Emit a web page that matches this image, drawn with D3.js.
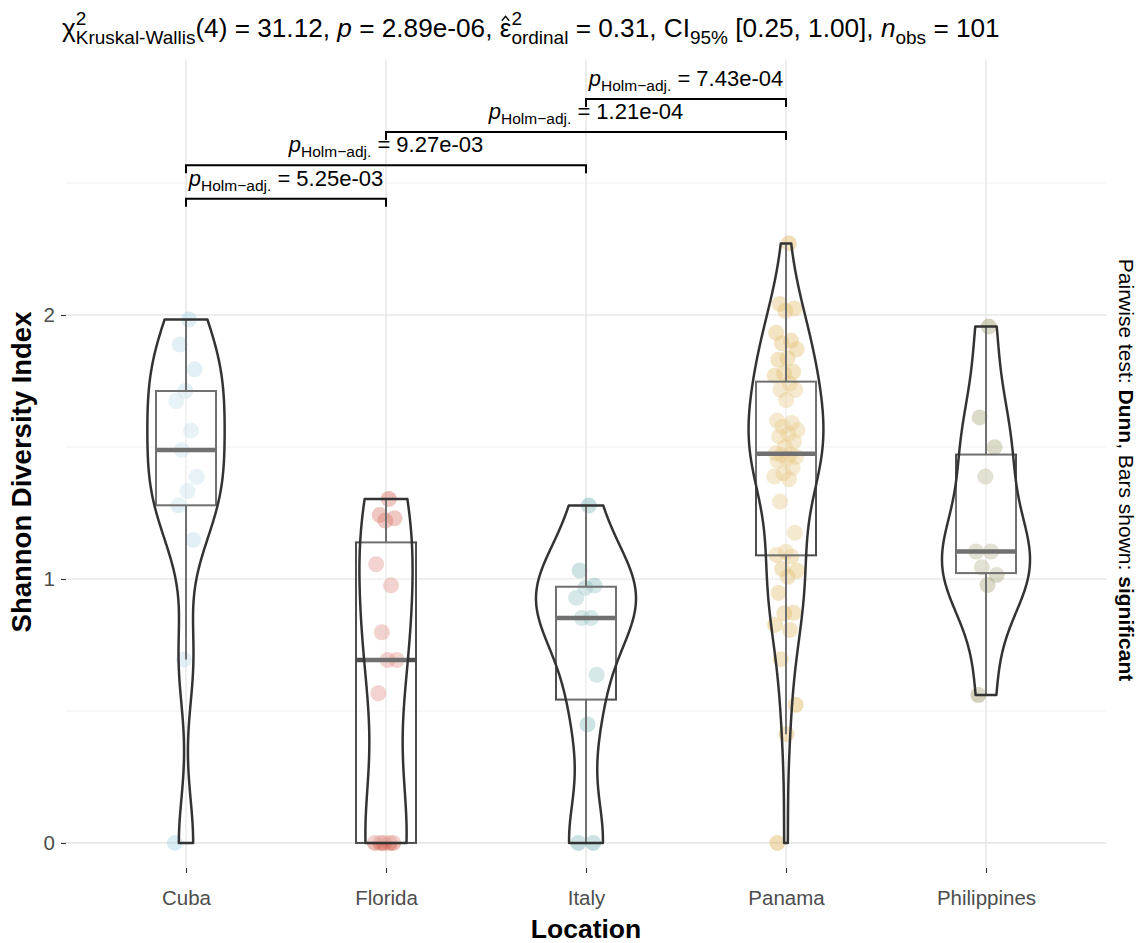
<!DOCTYPE html>
<html>
<head>
<meta charset="utf-8">
<script src="https://cdn.jsdelivr.net/npm/d3@7/dist/d3.min.js"></script>
<style>
  body { margin: 0; background: #ffffff; }
  svg { display: block; }
  text { font-family: "Liberation Sans", Arial, Helvetica, sans-serif; white-space: pre; }
</style>
</head>
<body>
<svg id="chart" width="1140" height="943"></svg>
<script>
// ---- data ---------------------------------------------------------------
const locations = ["Cuba", "Florida", "Italy", "Panama", "Philippines"];

const cuba = [1.983, 1.888, 1.794, 1.712, 1.674, 1.562, 1.489, 1.387, 1.333, 1.279, 1.148, 0.695, 0];
const florida = [1.303, 1.242, 1.230, 1.221, 1.056, 0.976, 0.798, 0.693, 0.693, 0.567, 0, 0, 0, 0, 0];
const italy = [1.278, 1.032, 0.975, 0.966, 0.928, 0.852, 0.852, 0.637, 0.449, 0, 0];
const panama = [2.271, 2.042, 2.025, 2.016, 1.933, 1.903, 1.893, 1.870, 1.836, 1.830,
                1.785, 1.779, 1.770, 1.740, 1.716, 1.716, 1.678, 1.600, 1.591, 1.577,
                1.564, 1.550, 1.540, 1.520, 1.500, 1.476, 1.472, 1.470, 1.463, 1.455,
                1.447, 1.420, 1.400, 1.388, 1.378, 1.293, 1.175, 1.103, 1.091, 1.085,
                1.038, 1.031, 1.008, 0.947, 0.872, 0.870, 0.826, 0.807, 0.696, 0.523,
                0.412, 0];
const philippines = [1.956, 1.612, 1.499, 1.388, 1.104, 1.104, 1.044, 1.015, 0.977, 0.560];

const groupValues = [cuba, florida, italy, panama, philippines];
const pointColors = ["#a9d5e4", "#cf5c4d", "#6bacac", "#deb152", "#98915c"];

const yTicks = [0, 1, 2];
const yMinorTicks = [0.5, 1.5, 2.5];

// pairwise Dunn comparisons (Holm-adjusted) and their bracket heights
const pairFrom = ["Cuba", "Cuba", "Florida", "Italy"];
const pairTo = ["Florida", "Italy", "Panama", "Panama"];
const pairP = ["5.25e-03", "9.27e-03", "1.21e-04", "7.43e-04"];
const pairLevel = [2.44, 2.567, 2.693, 2.818];

// overall test summary
const statChi = "31.12", statDf = "4", statP = "2.89e-06", statEps = "0.31",
      statCI = "[0.25, 1.00]", statN = "101";

// ---- layout -------------------------------------------------------------
const svg = d3.select("#chart");
const panel = { left: 66, right: 1106, top: 60, bottom: 868 };

const x = d3.scalePoint().domain(locations)
  .range([panel.left, panel.right]).padding(0.6);
const y = d3.scaleLinear().domain([-0.095, 2.966])
  .range([panel.bottom, panel.top]);

const FONT = '"Liberation Sans", Arial, Helvetica, sans-serif';

// rich text helper: sequential segments with sub/superscripts;
// a segment flagged `hat` gets a circumflex drawn above it
function richText(parent, segs, opts) {
  const g = parent.append("g");
  let cursor = 0, prevStart = 0, prevEnd = 0, maxEnd = 0;
  segs.forEach(s => {
    const size = s.size || opts.size;
    const t = g.append("text")
      .attr("xml:space", "preserve")
      .attr("y", s.shift || 0)
      .style("font-size", size + "px")
      .style("font-style", s.italic ? "italic" : "normal")
      .style("font-weight", s.bold ? "bold" : "normal")
      .attr("fill", opts.color || "#000")
      .text(s.t);
    const w = t.node().getComputedTextLength();
    const xs = s.stack ? prevStart : cursor;
    t.attr("x", xs);
    if (s.hat) {
      const mid = xs + w / 2, top = (s.shift || 0) - size * 0.62;
      g.append("path")
        .attr("d", `M${mid - w * 0.32},${top}L${mid},${top - size * 0.17}L${mid + w * 0.32},${top}`)
        .attr("fill", "none").attr("stroke", opts.color || "#000")
        .attr("stroke-width", 1.4);
    }
    if (!s.stack) { prevStart = xs; prevEnd = xs + w; }
    maxEnd = Math.max(maxEnd, xs + w);
    cursor = maxEnd;
  });
  const total = cursor;
  let dx = 0;
  if (opts.anchor === "middle") dx = -total / 2;
  else if (opts.anchor === "end") dx = -total;
  g.attr("transform", `translate(${opts.x + dx},${opts.y})`);
  return { g, width: total };
}

// ---- grid ---------------------------------------------------------------
const grid = svg.append("g");
grid.selectAll("line.minor").data(yMinorTicks).join("line")
  .attr("x1", panel.left).attr("x2", panel.right)
  .attr("y1", d => y(d)).attr("y2", d => y(d))
  .attr("stroke", "#efefef").attr("stroke-width", 1.1);
grid.selectAll("line.majy").data(yTicks).join("line")
  .attr("x1", panel.left).attr("x2", panel.right)
  .attr("y1", d => y(d)).attr("y2", d => y(d))
  .attr("stroke", "#e8e8e8").attr("stroke-width", 1.6);
grid.selectAll("line.majx").data(locations).join("line")
  .attr("x1", d => x(d)).attr("x2", d => x(d))
  .attr("y1", panel.top).attr("y2", panel.bottom)
  .attr("stroke", "#e8e8e8").attr("stroke-width", 1.6);

// ---- axes ---------------------------------------------------------------
const yAxis = svg.append("g")
  .attr("transform", `translate(${panel.left},0)`)
  .call(d3.axisLeft(y).tickValues(yTicks).tickFormat(d3.format("d")).tickSize(5).tickPadding(6));
const xAxis = svg.append("g")
  .attr("transform", `translate(0,${panel.bottom})`)
  .call(d3.axisBottom(x).tickSize(5).tickPadding(17));
[yAxis, xAxis].forEach(a => {
  a.select(".domain").remove();
  a.selectAll(".tick line").attr("stroke", "#333333").attr("stroke-width", 1.1);
  a.selectAll(".tick text").attr("fill", "#4d4d4d")
    .style("font-family", FONT).style("font-size", "20.5px");
});

// ---- statistics helpers -------------------------------------------------
function boxStats(vals) {
  const s = vals.slice().sort(d3.ascending);
  const q1 = d3.quantileSorted(s, 0.25), med = d3.quantileSorted(s, 0.5),
        q3 = d3.quantileSorted(s, 0.75), iqr = q3 - q1;
  const lo = d3.min(s.filter(v => v >= q1 - 1.5 * iqr));
  const hi = d3.max(s.filter(v => v <= q3 + 1.5 * iqr));
  return { q1, med, q3, lo, hi, sorted: s };
}
function bwNrd0(s) {
  const sd = d3.deviation(s);
  const iqr = d3.quantileSorted(s, 0.75) - d3.quantileSorted(s, 0.25);
  let lo = Math.min(sd, iqr / 1.34);
  if (!(lo > 0)) lo = sd || Math.abs(s[0]) || 1;
  return 0.9 * lo * Math.pow(s.length, -0.2);
}
function kde(s, n) {
  const bw = bwNrd0(s);
  const a = s[0], b = s[s.length - 1];
  const grid = d3.range(n).map(i => a + (b - a) * i / (n - 1));
  const c = 1 / (s.length * bw * Math.sqrt(2 * Math.PI));
  return grid.map(v => ({
    v, d: c * d3.sum(s, xi => Math.exp(-0.5 * ((v - xi) / bw) ** 2))
  }));
}

const stats = groupValues.map(boxStats);
const dens = stats.map(st => kde(st.sorted, 512));
const maxDens = d3.max(dens, ds => d3.max(ds, p => p.d));
const halfViolin = x.step() * 0.25;
const halfBox = x.step() * 0.15;
const jitterHalf = 12;

// ---- points -------------------------------------------------------------
const pts = svg.append("g");
groupValues.forEach((vals, gi) => {
  const cx = x(locations[gi]);
  pts.selectAll(null).data(vals).join("circle")
    .attr("cx", (d, i) => cx + (((i + 1) * 0.6180339887) % 1 - 0.5) * 2 * jitterHalf)
    .attr("cy", d => y(d))
    .attr("r", 8)
    .attr("fill", pointColors[gi])
    .attr("fill-opacity", 0.42);
});

// ---- boxplots -----------------------------------------------------------
const boxes = svg.append("g");
stats.forEach((st, gi) => {
  const cx = x(locations[gi]);
  const g = boxes.append("g");
  g.append("line").attr("x1", cx).attr("x2", cx)
    .attr("y1", y(st.q3)).attr("y2", y(st.hi))
    .attr("stroke", "#4d4d4d").attr("stroke-width", 2);
  g.append("line").attr("x1", cx).attr("x2", cx)
    .attr("y1", y(st.q1)).attr("y2", y(st.lo))
    .attr("stroke", "#4d4d4d").attr("stroke-width", 2);
  g.append("rect").attr("x", cx - halfBox).attr("width", 2 * halfBox)
    .attr("y", y(st.q3)).attr("height", y(st.q1) - y(st.q3))
    .attr("fill", "#ffffff").attr("fill-opacity", 0.2)
    .attr("stroke", "#4d4d4d").attr("stroke-width", 2);
  g.append("line").attr("x1", cx - halfBox).attr("x2", cx + halfBox)
    .attr("y1", y(st.med)).attr("y2", y(st.med))
    .attr("stroke", "#4d4d4d").attr("stroke-width", 4.5);
});

// ---- violins ------------------------------------------------------------
const violins = svg.append("g");
dens.forEach((ds, gi) => {
  const cx = x(locations[gi]);
  const area = d3.area()
    .x0(p => cx - p.d / maxDens * halfViolin)
    .x1(p => cx + p.d / maxDens * halfViolin)
    .y(p => y(p.v));
  violins.append("path").attr("d", area(ds))
    .attr("fill", "#ffffff").attr("fill-opacity", 0.2)
    .attr("stroke", "#333333").attr("stroke-width", 2.5)
    .attr("stroke-linejoin", "round");
});

// ---- significance brackets ---------------------------------------------
const brackets = svg.append("g");
const tickDrop = 8;
pairFrom.forEach((f, i) => {
  const x1 = x(f), x2 = x(pairTo[i]), yy = y(pairLevel[i]);
  brackets.append("path")
    .attr("d", `M${x1},${yy + tickDrop}V${yy}H${x2}V${yy + tickDrop}`)
    .attr("fill", "none").attr("stroke", "#000").attr("stroke-width", 2);
  richText(brackets, [
    { t: "p", italic: true },
    { t: "Holm\u2212adj.", size: 15.5, shift: 5 },
    { t: " = " + pairP[i] }
  ], { x: (x1 + x2) / 2, y: yy - 13, size: 22, anchor: "middle" });
});

// ---- title --------------------------------------------------------------
richText(svg, [
  { t: "\u03c7" },
  { t: "2", size: 19, shift: -12 },
  { t: "Kruskal-Wallis", size: 19, shift: 7, stack: true },
  { t: "(" + statDf + ") = " + statChi + ", " },
  { t: "p", italic: true },
  { t: " = " + statP + ", " },
  { t: "\u03b5", hat: true },
  { t: "2", size: 19, shift: -12 },
  { t: "ordinal", size: 19, shift: 7, stack: true },
  { t: " = " + statEps + ", CI" },
  { t: "95%", size: 19, shift: 7 },
  { t: " " + statCI + ", " },
  { t: "n", italic: true },
  { t: "obs", size: 19, shift: 7 },
  { t: " = " + statN }
], { x: 62, y: 37, size: 26.2, anchor: "start" });

// ---- axis titles --------------------------------------------------------
svg.append("text")
  .attr("x", (panel.left + panel.right) / 2).attr("y", 938)
  .attr("text-anchor", "middle")
  .style("font-size", "26.5px").style("font-weight", "bold")
  .text("Location");

svg.append("text")
  .attr("transform", `translate(31,472) rotate(-90)`)
  .attr("text-anchor", "middle")
  .style("font-size", "27.5px").style("font-weight", "bold")
  .text("Shannon Diversity Index");

const side = svg.append("g")
  .attr("transform", `translate(1119,${(panel.top + panel.bottom) / 2 + 6}) rotate(90)`);
richText(side, [
  { t: "Pairwise test: " },
  { t: "Dunn", bold: true },
  { t: ", Bars shown: " },
  { t: "significant", bold: true }
], { x: 0, y: 0, size: 21, anchor: "middle" });
</script>
</body>
</html>
